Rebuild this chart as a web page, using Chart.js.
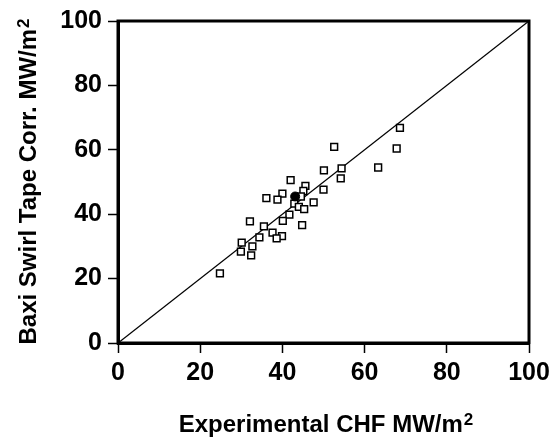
<!DOCTYPE html>
<html>
<head>
<meta charset="utf-8">
<script src="https://cdn.jsdelivr.net/npm/chart.js@4/dist/chart.umd.min.js"></script>
<style>
  html, body { margin: 0; padding: 0; background: #fff; }
  #wrap { width: 559px; height: 441px; }
</style>
</head>
<body>
<div id="wrap"><canvas id="ChartCHF" width="559" height="441"></canvas></div>
<script>
// experimental CHF vs Baxi swirl tape correlation (MW/m2)
var expCHF = [68.6, 67.8, 52.6, 63.3, 54.4, 50.1, 54.2, 42.0, 45.6, 50.0, 45.1, 40.0,
              36.1, 38.8, 44.5, 47.6, 42.9, 44.0, 45.3, 41.7, 32.1, 40.1, 35.5, 44.8,
              37.6, 34.4, 39.9, 38.6, 30.1, 32.7, 29.9, 32.4, 24.8];
var corrCHF = [66.8, 60.4, 60.9, 54.5, 54.2, 53.6, 51.1, 50.6, 48.8, 47.6, 47.2, 46.4,
               45.0, 44.5, 45.5, 43.7, 43.3, 42.3, 41.6, 39.9, 37.8, 37.9, 36.2, 36.6,
               34.3, 32.8, 33.2, 32.5, 31.2, 30.0, 28.4, 27.2, 21.6];
var filledX = [43.1];
var filledY = [45.5];
var lineX = [0, 100];
var lineY = [0, 100];
var tickValues = [0, 20, 40, 60, 80, 100];

var FONT = "'Liberation Sans Narrow', 'Arial Narrow', 'Liberation Sans', Arial, sans-serif";

function toPoints(xs, ys) {
    return xs.map(function (x, i) { return { x: x, y: ys[i] }; });
}

// frame + axis titles with superscript
var framePlugin = {
    id: 'frameTitles',
    afterDraw: function (chart) {
        var ctx = chart.ctx;
        var a = chart.chartArea;
        ctx.save();
        ctx.strokeStyle = '#000';
        ctx.lineWidth = 3;
        ctx.strokeRect(a.left, a.top, a.right - a.left, a.bottom - a.top);

        ctx.fillStyle = '#000';
        ctx.textBaseline = 'alphabetic';
        drawSup(ctx, 'Experimental CHF MW/m', '2', (a.left + a.right) / 2 + 2, 432);

        ctx.translate(36, (a.top + a.bottom) / 2);
        ctx.rotate(-Math.PI / 2);
        drawSup(ctx, 'Baxi Swirl Tape Corr. MW/m', '2', 0, 0);
        ctx.restore();
    }
};

function drawSup(ctx, main, sup, cx, y) {
    ctx.font = 'bold 24px ' + FONT;
    var w1 = ctx.measureText(main).width;
    ctx.font = 'bold 17px ' + FONT;
    var w2 = ctx.measureText(sup).width;
    var x0 = cx - (w1 + w2) / 2;
    ctx.textAlign = 'left';
    ctx.font = 'bold 24px ' + FONT;
    ctx.fillText(main, x0, y);
    ctx.font = 'bold 17px ' + FONT;
    ctx.fillText(sup, x0 + w1 + 1, y - 7);
}

var ctx = document.getElementById('ChartCHF').getContext('2d');

var graph = new Chart(ctx, {
    type: 'scatter',
    data: {
        datasets: [
            {
                type: 'line',
                label: 'y = x',
                data: toPoints(lineX, lineY),
                borderColor: '#000',
                borderWidth: 1.3,
                pointRadius: 0,
                fill: false,
                order: 3
            },
            {
                label: 'Data',
                data: toPoints(expCHF, corrCHF),
                pointStyle: 'rect',
                pointRadius: 4.8,
                pointBorderWidth: 1.5,
                borderColor: '#000',
                backgroundColor: '#fff',
                order: 2
            },
            {
                label: 'Mean',
                data: toPoints(filledX, filledY),
                pointStyle: 'circle',
                pointRadius: 4.5,
                borderColor: '#000',
                backgroundColor: '#000',
                order: 1
            }
        ]
    },
    options: {
        responsive: false,
        animation: false,
        layout: { padding: { left: 0, right: 30, top: 20, bottom: 0 } },
        plugins: {
            legend: { display: false },
            tooltip: { enabled: false }
        },
        scales: {
            x: {
                type: 'linear',
                min: 0,
                max: 100,
                afterFit: function (scale) { scale.height = 98; },
                afterBuildTicks: function (scale) {
                    scale.ticks = tickValues.map(function (v) { return { value: v }; });
                },
                grid: { drawOnChartArea: false, tickLength: 10, tickColor: '#000', tickWidth: 1.5 },
                border: { color: '#000', width: 3 },
                ticks: {
                    color: '#000',
                    padding: 5,
                    maxRotation: 0,
                    font: { family: FONT, size: 25, weight: 'bold' }
                }
            },
            y: {
                type: 'linear',
                min: 0,
                max: 100,
                afterFit: function (scale) { scale.width = 118; },
                afterBuildTicks: function (scale) {
                    scale.ticks = tickValues.map(function (v) { return { value: v }; });
                },
                grid: { drawOnChartArea: false, tickLength: 10, tickColor: '#000', tickWidth: 1.5 },
                border: { color: '#000', width: 3 },
                ticks: {
                    color: '#000',
                    padding: 6,
                    font: { family: FONT, size: 25, weight: 'bold' }
                }
            }
        }
    },
    plugins: [framePlugin]
});
</script>
</body>
</html>
